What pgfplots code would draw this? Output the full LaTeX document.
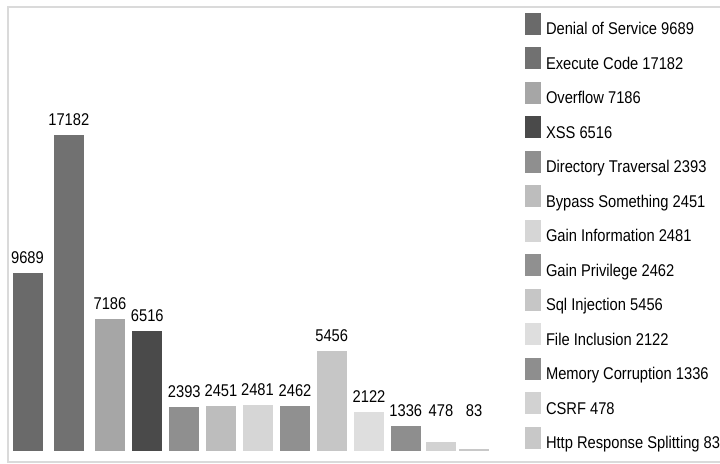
\documentclass[border=0pt]{standalone}
\usepackage{fontspec}
\setmainfont{Liberation Sans}[FakeStretch=0.865]
\usepackage{pgfplots}
\pgfplotsset{compat=1.18}
\definecolor{c1}{HTML}{6A6A6A}
\definecolor{c2}{HTML}{717171}
\definecolor{c3}{HTML}{A6A6A6}
\definecolor{c4}{HTML}{4A4A4A}
\definecolor{c5}{HTML}{8F8F8F}
\definecolor{c6}{HTML}{BDBDBD}
\definecolor{c7}{HTML}{D6D6D6}
\definecolor{c8}{HTML}{909090}
\definecolor{c9}{HTML}{C6C6C6}
\definecolor{c10}{HTML}{DEDEDE}
\definecolor{c11}{HTML}{8E8E8E}
\definecolor{c12}{HTML}{D2D2D2}
\definecolor{c13}{HTML}{C8C8C8}
\definecolor{framec}{HTML}{DADADA}
\pgfplotsset{mybar/.style={ybar, bar width=30bp, bar shift=0pt, draw=none, fill=#1,
  legend image code/.code={\fill[##1] (0bp,0bp) rectangle (16bp,22bp);}}}
\newcommand{\chfont}{\fontsize{17bp}{19bp}\selectfont}
\begin{document}
\begin{tikzpicture}
\useasboundingbox (0bp,0bp) rectangle (720bp,464bp);
\draw[framec, line width=1.5bp] (721bp,457bp) -- (8bp,457bp) -- (8bp,2bp) -- (721bp,2bp);
\begin{axis}[
  at={(8bp,13bp)}, anchor=south west,
  scale only axis, width=504bp, height=444bp,
  xmin=8, xmax=512, ymin=0, ymax=24142,
  hide axis, clip=false,
  legend cell align=left,
  legend style={at={(axis description cs:1.0258,0.9865)}, anchor=north west,
    draw=none, fill=none, inner sep=0pt, outer sep=0pt,
    row sep=8.5bp, column sep=5bp,
    nodes={inner sep=0pt, text depth=4bp, font=\chfont, anchor=base west}},
]
\addplot[mybar=c1] coordinates {(27.5,9689)}; \addlegendentry{Denial of Service 9689}
\addplot[mybar=c2] coordinates {(68.8,17182)}; \addlegendentry{Execute Code 17182}
\addplot[mybar=c3] coordinates {(110,7186)}; \addlegendentry{Overflow 7186}
\addplot[mybar=c4] coordinates {(147.3,6516)}; \addlegendentry{XSS 6516}
\addplot[mybar=c5] coordinates {(184.3,2393)}; \addlegendentry{Directory Traversal 2393}
\addplot[mybar=c6] coordinates {(221,2451)}; \addlegendentry{Bypass Something 2451}
\addplot[mybar=c7] coordinates {(257.5,2481)}; \addlegendentry{Gain Information 2481}
\addplot[mybar=c8] coordinates {(295,2462)}; \addlegendentry{Gain Privilege 2462}
\addplot[mybar=c9] coordinates {(331.7,5456)}; \addlegendentry{Sql Injection 5456}
\addplot[mybar=c10] coordinates {(369,2122)}; \addlegendentry{File Inclusion 2122}
\addplot[mybar=c11] coordinates {(405.8,1336)}; \addlegendentry{Memory Corruption 1336}
\addplot[mybar=c12] coordinates {(441,478)}; \addlegendentry{CSRF 478}
\addplot[mybar=c13] coordinates {(474,83)}; \addlegendentry{Http Response Splitting 83}
\addplot[forget plot, draw=none, mark=none, nodes near coords, point meta=explicit symbolic,
  every node near coord/.append style={anchor=base, inner sep=0pt, yshift=9.5bp, font=\chfont, text=black}]
  coordinates {
  (27.5,9689)[9689] (68.8,17182)[17182] (110,7186)[7186] (147.3,6516)[6516]
  (184.3,2393)[2393] (221,2451)[2451] (257.5,2481)[2481] (295,2462)[2462]
  (331.7,5456)[5456] (369,2122)[2122] (405.8,1336)[1336] (441,1336)[478] (474,1336)[83]
  };
\end{axis}
\end{tikzpicture}
\end{document}
